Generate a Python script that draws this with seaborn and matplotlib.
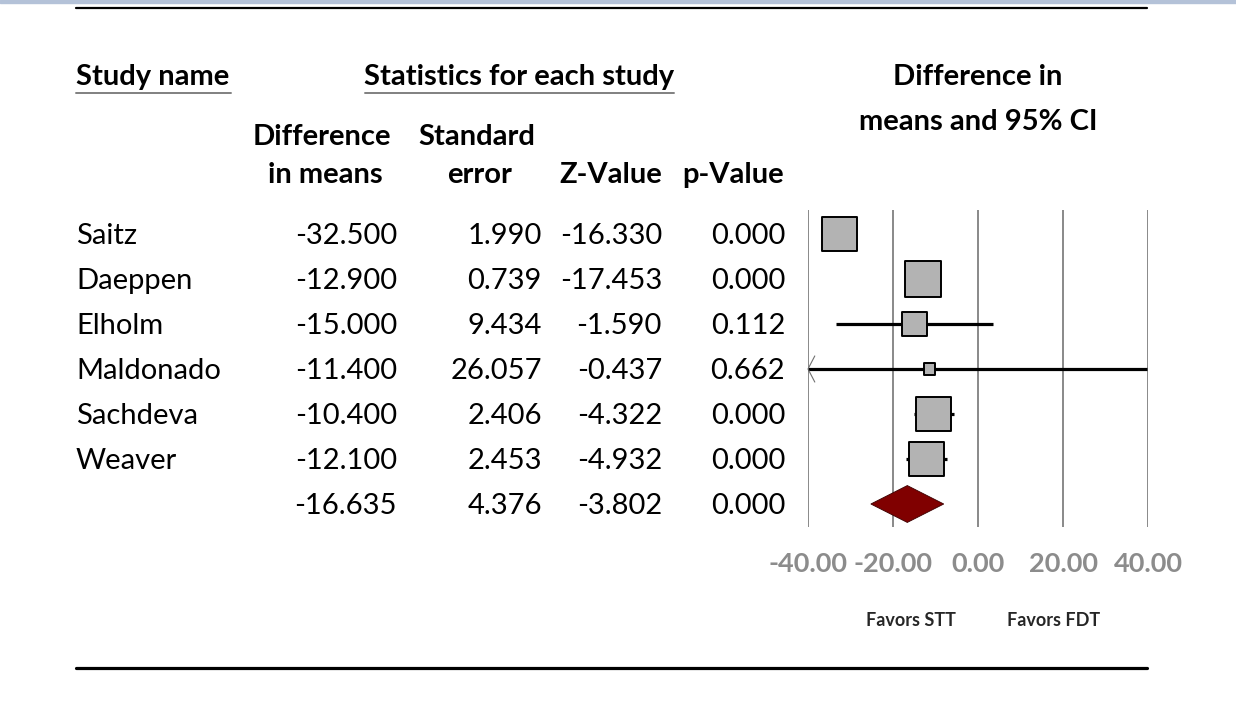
import numpy as np
import pandas as pd
import seaborn as sns
import matplotlib.pyplot as plt
from matplotlib.patches import Polygon

# Study data
studies = ["Saitz", "Daeppen", "Elholm", "Maldonado", "Sachdeva", "Weaver"]
diff_means = [-32.500, -12.900, -15.000, -11.400, -10.400, -12.100]
std_errors = [1.990, 0.739, 9.434, 26.057, 2.406, 2.453]
z_values = [-16.330, -17.453, -1.590, -0.437, -4.322, -4.932]
p_values = [0.000, 0.000, 0.112, 0.662, 0.000, 0.000]
rel_weights = [21.6, 22.5, 11.0, 2.5, 21.2, 21.2]

# Pooled (summary) result
pooled_diff = -16.635
pooled_se = 4.376
pooled_z = -3.802
pooled_p = 0.000

x_ticks = [-40, -20, 0, 20, 40]
favors_labels = ["Favors STT", "Favors FDT"]

sns.set_theme(style="white")
plt.rcParams["font.family"] = ["Lato", "DejaVu Sans"]

df = pd.DataFrame({"study": studies, "diff": diff_means, "se": std_errors,
                   "z": z_values, "p": p_values, "weight": rel_weights})
df["row"] = np.arange(len(df))
df["lower"] = df["diff"] - 1.96 * df["se"]
df["upper"] = df["diff"] + 1.96 * df["se"]
pooled_row = len(df)
pooled_lower = pooled_diff - 1.96 * pooled_se
pooled_upper = pooled_diff + 1.96 * pooled_se

W, H = 1236, 728
fig = plt.figure(figsize=(W / 100, H / 100), dpi=100)
fig.patch.set_facecolor("white")

# background axes in pixel coordinates for the table part
bg = fig.add_axes([0, 0, 1, 1])
bg.set_xlim(0, W)
bg.set_ylim(H, 0)
bg.axis("off")

bg.axhspan(0, 2.5, color="#b4c2d8")
bg.plot([76, 1147], [8, 8], color="black", lw=1.6)
bg.plot([76, 1147], [668, 668], color="black", lw=2.3)

fs = 21
bold = dict(fontsize=fs, fontweight="bold", color="black", va="center")
bg.text(76, 77, "Study name", ha="left", **bold)
bg.plot([76, 231], [93, 93], color="#808080", lw=1.4)
bg.text(519, 77, "Statistics for each study", ha="center", **bold)
bg.plot([365, 674], [93, 93], color="#808080", lw=1.4)
bg.text(978, 77, "Difference in", ha="center", **bold)
bg.text(978, 122, "means and 95% CI", ha="center", **bold)

bg.text(322, 137, "Difference", ha="center", **bold)
bg.text(325, 175, "in means", ha="center", **bold)
bg.text(477, 137, "Standard", ha="center", **bold)
bg.text(480, 175, "error", ha="center", **bold)
bg.text(662, 175, "Z-Value", ha="right", **bold)
bg.text(784, 175, "p-Value", ha="right", **bold)

row_y0, row_dy = 234, 45
norm = dict(fontsize=fs, color="black", va="center")
for i, r in df.iterrows():
    y = row_y0 + row_dy * i + 2
    bg.text(76, y, r["study"], ha="left", **norm)
    bg.text(397, y, f"{r['diff']:.3f}", ha="right", **norm)
    bg.text(542, y, f"{r['se']:.3f}", ha="right", **norm)
    bg.text(662, y, f"{r['z']:.3f}", ha="right", **norm)
    bg.text(785, y, f"{r['p']:.3f}", ha="right", **norm)
y = row_y0 + row_dy * pooled_row + 2
bg.text(397, y, f"{pooled_diff:.3f}", ha="right", **norm)
bg.text(542, y, f"{pooled_se:.3f}", ha="right", **norm)
bg.text(662, y, f"{pooled_z:.3f}", ha="right", **norm)
bg.text(785, y, f"{pooled_p:.3f}", ha="right", **norm)

# forest plot axes
left, right, top, bottom = 808, 1148, 210, 527
ax = fig.add_axes([left / W, (H - bottom) / H, (right - left) / W, (bottom - top) / H])
ax.set_facecolor("none")
ax.set_xlim(x_ticks[0], x_ticks[-1])
ax.set_ylim(pooled_row + (bottom - (row_y0 + row_dy * pooled_row)) / row_dy,
            -(row_y0 - top) / row_dy)
for t in x_ticks:
    ax.axvline(t, color="#808080", lw=1.3, zorder=1)

ax.hlines(df["row"], df["lower"], df["upper"], color="black", lw=2.3, zorder=2)
xmin = x_ticks[0]
for _, r in df[df["lower"] < xmin].iterrows():
    ax.plot([xmin + 1.6, xmin, xmin + 1.6], [r["row"] - 0.29, r["row"], r["row"] + 0.29],
            color="#707070", lw=0.8, zorder=3, clip_on=False)

sns.scatterplot(data=df, x="diff", y="row", size="weight", sizes=(0, 660),
                size_norm=(0, max(rel_weights)), marker="s", color="#b3b3b3",
                edgecolor="black", linewidth=1.4, legend=False, zorder=4, ax=ax)

h = 0.41
diamond = Polygon([(pooled_lower, pooled_row), (pooled_diff, pooled_row - h),
                   (pooled_upper, pooled_row), (pooled_diff, pooled_row + h)],
                  closed=True, facecolor="#800000", edgecolor="#3a0000", lw=0.6, zorder=4)
ax.add_patch(diamond)

ax.set_xticks(x_ticks)
ax.set_xticklabels([f"{t:.2f}" for t in x_ticks], fontsize=19.5, fontweight="bold", color="#8c8c8c")
ax.tick_params(axis="x", length=0, pad=18)
ax.set_yticks([])
ax.set_xlabel("")
ax.set_ylabel("")
for s in ax.spines.values():
    s.set_visible(False)

bg.text(911, 621, favors_labels[0], ha="center", va="center", fontsize=13, fontweight="bold")
bg.text(1054, 621, favors_labels[1], ha="center", va="center", fontsize=13, fontweight="bold")

fig.savefig("out.png", dpi=100, facecolor="white")
